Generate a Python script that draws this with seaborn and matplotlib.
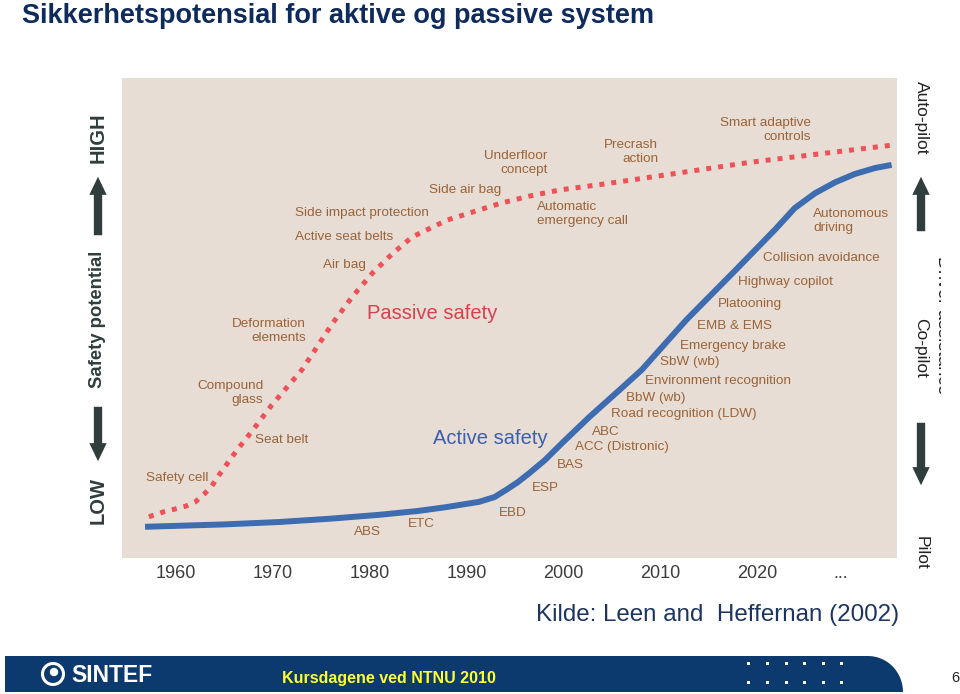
import numpy as np
import matplotlib
matplotlib.use("Agg")
import matplotlib.pyplot as plt
import seaborn as sns
from matplotlib.patches import Rectangle, Polygon, Circle, FancyArrowPatch
from matplotlib.transforms import Bbox, TransformedBbox

# curves (safety potential, 0 = low .. 100 = high)
passive_years = [1957.2, 1958.7, 1959.9, 1961.0, 1962.0, 1962.9, 1963.7, 1964.3, 1966.3, 1967.8,
                 1969.9, 1973.0, 1976.2, 1978.2, 1980.3, 1982.4, 1984.4, 1988.0, 1991.3, 1993.5,
                 1996.5, 1999.7, 2003.8, 2009.2, 2019.5, 2033.9]
passive_level = [8.6, 9.6, 10.2, 10.8, 11.7, 13.3, 15.0, 16.9, 22.5, 26.3,
                 31.9, 39.2, 49.0, 54.4, 59.4, 63.5, 66.9, 70.4, 72.5, 73.9,
                 75.4, 76.7, 77.8, 79.4, 82.5, 86.0]

active_years = [1956.8, 1965.0, 1970.7, 1976.0, 1981.0, 1985.0, 1987.9, 1991.3, 1992.9, 1994.1,
                1995.3, 1996.5, 1998.1, 1999.9, 2002.7, 2005.8, 2008.1, 2012.7, 2017.8, 2021.9,
                2023.9, 2026.0, 2028.1, 2030.1, 2032.2, 2033.9]
active_level = [6.5, 7.0, 7.5, 8.2, 9.0, 9.8, 10.6, 11.7, 12.7, 14.2,
                15.8, 17.7, 20.4, 24.0, 29.4, 35.0, 39.2, 49.6, 60.0, 68.5,
                72.9, 76.0, 78.3, 80.0, 81.25, 81.9]

tick_years = [1960, 1970, 1980, 1990, 2000, 2010, 2020, 2028.6]
tick_labels = ["1960", "1970", "1980", "1990", "2000", "2010", "2020", "..."]

# milestone labels: text, year, level, alignment
passive_labels = ["Safety cell", "Seat belt", "Compound\nglass", "Deformation\nelements", "Air bag",
                  "Active seat belts", "Side impact protection", "Side air bag", "Underfloor\nconcept",
                  "Precrash\naction", "Automatic\nemergency call", "Smart adaptive\ncontrols"]
passive_lab_year = [1956.9, 1968.2, 1969.0, 1973.4, 1975.2, 1972.3, 1972.3, 1986.1, 1998.4, 2009.8, 1997.3, 2025.6]
passive_lab_level = [16.7, 24.6, 34.4, 47.3, 61.0, 66.9, 71.9, 76.7, 82.3, 84.6, 71.7, 89.2]
passive_lab_ha = ["left", "left", "right", "right", "left", "left", "left", "left", "right", "right", "left", "right"]

active_labels = ["ABS", "ETC", "EBD", "ESP", "BAS", "ABC", "ACC (Distronic)", "Road recognition (LDW)",
                 "BbW (wb)", "Environment recognition", "SbW (wb)", "Emergency brake", "EMB & EMS",
                 "Platooning", "Highway copilot", "Collision avoidance", "Autonomous\ndriving"]
active_lab_year = [1978.4, 1983.9, 1993.3, 1996.7, 1999.3, 2003.0, 2001.2, 2004.9, 2006.5, 2008.4,
                   2010.0, 2012.0, 2013.8, 2016.0, 2018.0, 2020.6, 2025.8]
active_lab_level = [5.4, 7.1, 9.4, 14.6, 19.4, 26.3, 23.1, 30.0, 33.3, 36.9,
                    40.8, 44.2, 48.3, 52.9, 57.5, 62.5, 70.2]

BLUE = "#3d6cb0"
RED = "#ee5158"
BROWN = "#9a6338"
NAVY = "#0c3a6e"
DARK = "#2f3d3d"

sns.set_style("white")
plt.rcParams["font.family"] = ["Liberation Sans", "DejaVu Sans"]

fig = plt.figure(figsize=(9.6, 6.94), dpi=100)

# overlay in pixel coordinates for the slide decoration
ov = fig.add_axes([0, 0, 1, 1], zorder=0)
ov.set_xlim(0, 960)
ov.set_ylim(694, 0)
ov.axis("off")

ax = fig.add_axes([122 / 960, 1 - 558 / 694, (897 - 122) / 960, (558 - 78) / 694], zorder=1)
ax.set_facecolor("#e8ddd4")

sns.lineplot(x=active_years, y=active_level, ax=ax, color=BLUE, lw=4.3, solid_capstyle="butt")
sns.lineplot(x=passive_years, y=passive_level, ax=ax, color=RED, lw=3.6, linestyle=(0, (1, 1.4)))

ax.set_xlim(1954.42, 2034.46)
ax.set_ylim(0, 100)
ax.set_yticks([])
ax.set_xticks(tick_years)
ax.set_xticklabels(tick_labels)
ax.set_xlabel("")
ax.set_ylabel("")
for s in ax.spines.values():
    s.set_visible(False)
ax.tick_params(axis="x", direction="in", length=6, width=1.2, color="#8c8884",
               pad=5, labelsize=13, labelcolor="#3c3c3c")
ax.xaxis.get_major_ticks()[-1].tick1line.set_visible(False)

for txt, x, y, ha in zip(passive_labels, passive_lab_year, passive_lab_level, passive_lab_ha):
    ax.text(x, y, txt, ha=ha, va="center", multialignment=ha, fontsize=9.7,
            color=BROWN, linespacing=1.2)
for txt, x, y in zip(active_labels, active_lab_year, active_lab_level):
    ax.text(x, y, txt, ha="left", va="center", fontsize=9.7, color=BROWN, linespacing=1.2)

ax.text(1979.7, 51.0, "Passive safety", fontsize=14.5, color="#d8404f", va="center")
ax.text(1986.5, 24.8, "Active safety", fontsize=14.5, color="#3a5fb0", va="center")

# left axis description
ov.text(98, 500, "LOW", rotation=90, ha="center", va="center", fontsize=14.5, fontweight="bold", color=DARK)
ov.text(98, 319, "Safety potential", rotation=90, ha="center", va="center", fontsize=13.3, fontweight="bold", color=DARK)
ov.text(98, 138, "HIGH", rotation=90, ha="center", va="center", fontsize=14.5, fontweight="bold", color=DARK)
arrow_style = "simple,head_width=1.25,head_length=1.3,tail_width=0.6"
for p0, p1 in [((98, 238), (98, 174)), ((98, 404), (98, 464)),
               ((921, 234), (921, 174)), ((921, 420), (921, 488))]:
    ov.add_patch(FancyArrowPatch(p0, p1, arrowstyle=arrow_style, mutation_scale=10,
                                 color=DARK, lw=0, transform=ov.transData))

# right axis description
ov.text(921, 118, "Auto-pilot", rotation=270, ha="center", va="center", fontsize=12.5, color="#222222")
ov.text(921, 348, "Co-pilot", rotation=270, ha="center", va="center", fontsize=12.5, color="#222222")
ov.text(921, 553, "Pilot", rotation=270, ha="center", va="center", fontsize=12.5, color="#222222")
cut = ov.text(943, 325, "Driver assistance", rotation=270, ha="center", va="center", fontsize=13, color="#222222")
cut.set_clip_box(TransformedBbox(Bbox([[900, 200], [941, 460]]), ov.transData))
cut.set_clip_on(True)

# titles
ov.text(22, 16, "Sikkerhetspotensial for aktive og passive system", fontsize=19.5, fontweight="bold",
        color="#0f2b5b", ha="left", va="center")
ov.text(536, 615, "Kilde: Leen and  Heffernan (2002)", fontsize=17.4, color="#1c3560", ha="left", va="center")

# footer band
t = np.linspace(0, np.pi / 2, 20)
band = [(5, 692), (5, 656), (868, 656)] + list(zip(868 + 35 * np.sin(t), 692 - 36 * np.cos(t)))
ov.add_patch(Polygon(band, closed=True, color=NAVY, lw=0))
ov.add_patch(Circle((53, 674), 10.5, fill=False, edgecolor="white", lw=2.2))
ov.add_patch(Circle((54, 672), 4.2, color="white", lw=0))
ov.text(71, 675, "SINTEF", color="white", fontsize=16.5, fontweight="bold", ha="left", va="center")
ov.text(282, 678, "Kursdagene ved NTNU 2010", color="#ffff2e", fontsize=11.5, fontweight="bold",
        ha="left", va="center")
for cx in [748, 767, 786, 804, 823, 841]:
    for cy in [663, 682]:
        ov.add_patch(Rectangle((cx - 1.5, cy - 1.5), 3, 3, color="white", lw=0))
ov.text(955, 678, "6", ha="center", va="center", fontsize=10.5, color="#222222")

fig.savefig("out.png", dpi=100)
